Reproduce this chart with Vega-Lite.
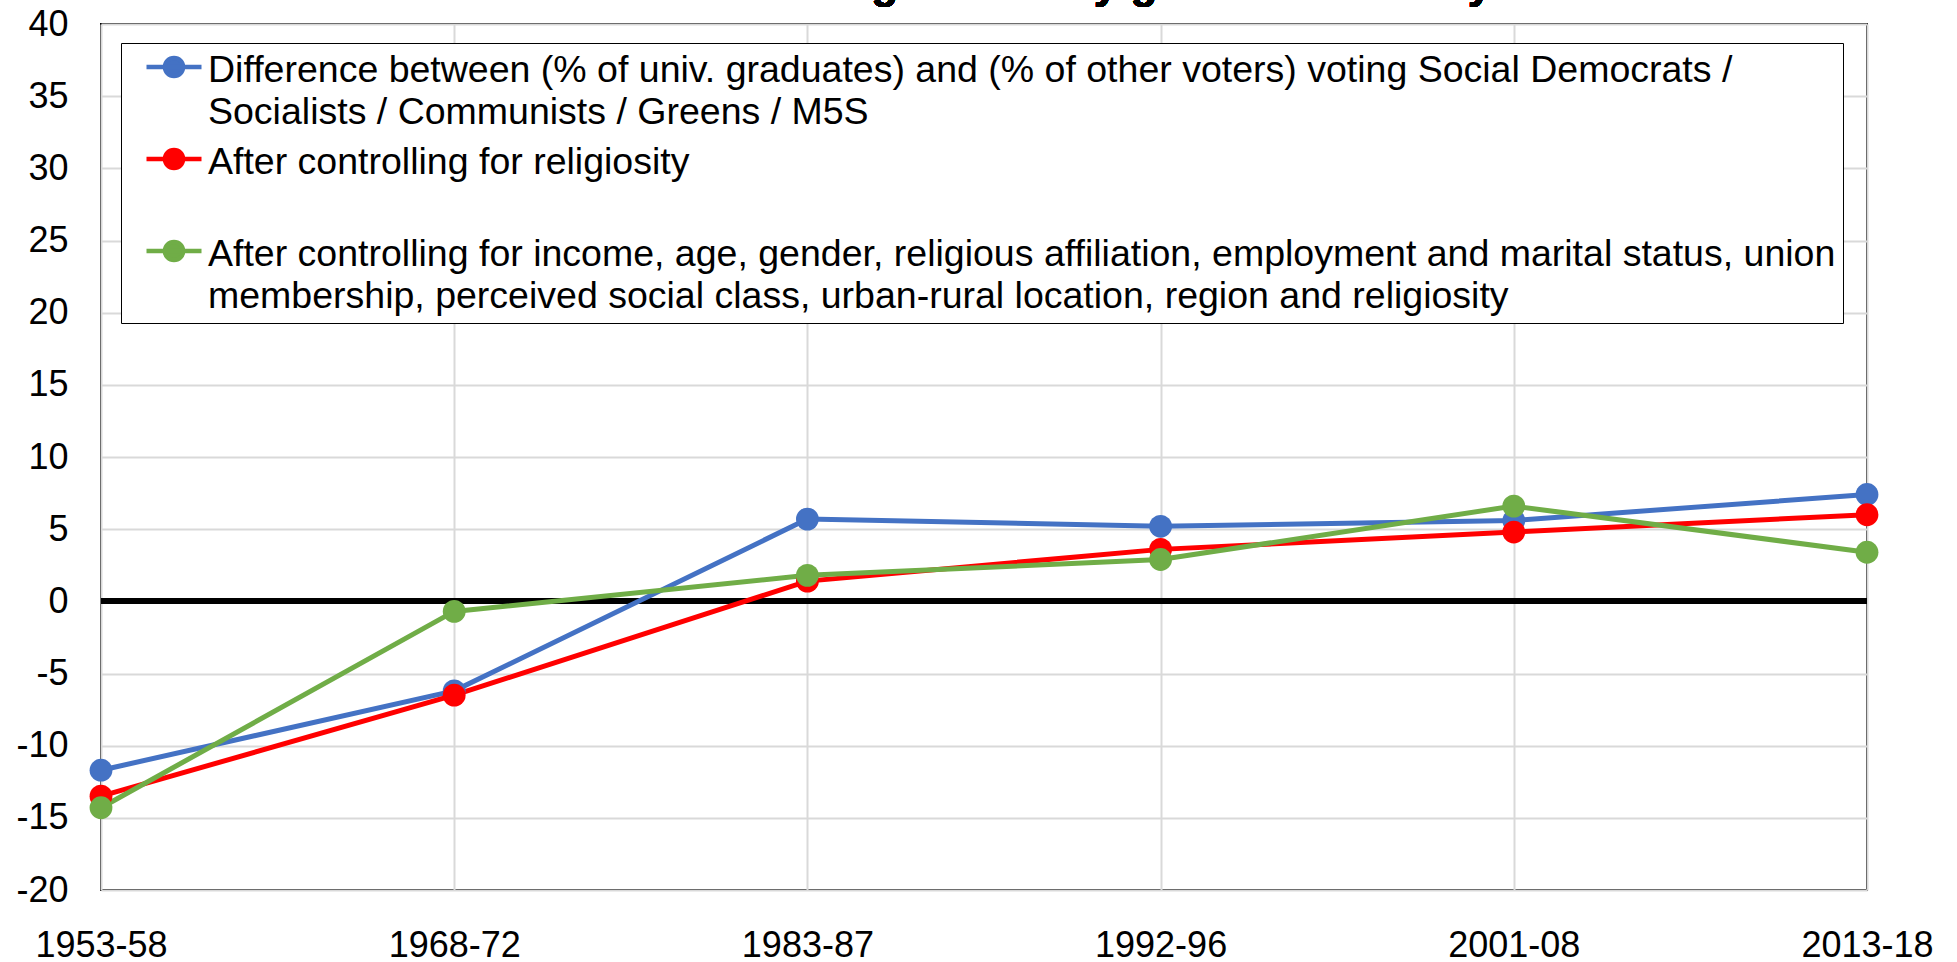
{
  "$schema": "https://vega.github.io/schema/vega-lite/v6.json",
  "autosize": {"type": "none"},
  "width": 1766,
  "height": 866,
  "padding": {"left": 101, "top": 24, "right": 90, "bottom": 72},
  "background": "white",
  "config": {
    "view": {"stroke": "black", "strokeWidth": 2},
    "axis": {
      "labelFont": "Liberation Sans",
      "labelFontSize": 36,
      "labelColor": "black",
      "ticks": false,
      "tickSize": 0,
      "domain": false,
      "grid": true,
      "gridColor": "#d9d9d9",
      "gridWidth": 2,
      "title": null
    }
  },
  "data": {
    "values": [
      {"period": "1953-58", "series": "Difference between (% of univ. graduates) and (% of other voters) voting Social Democrats /\nSocialists / Communists / Greens / M5S", "value": -11.7},
      {"period": "1968-72", "series": "Difference between (% of univ. graduates) and (% of other voters) voting Social Democrats /\nSocialists / Communists / Greens / M5S", "value": -6.2},
      {"period": "1983-87", "series": "Difference between (% of univ. graduates) and (% of other voters) voting Social Democrats /\nSocialists / Communists / Greens / M5S", "value": 5.7},
      {"period": "1992-96", "series": "Difference between (% of univ. graduates) and (% of other voters) voting Social Democrats /\nSocialists / Communists / Greens / M5S", "value": 5.2},
      {"period": "2001-08", "series": "Difference between (% of univ. graduates) and (% of other voters) voting Social Democrats /\nSocialists / Communists / Greens / M5S", "value": 5.6},
      {"period": "2013-18", "series": "Difference between (% of univ. graduates) and (% of other voters) voting Social Democrats /\nSocialists / Communists / Greens / M5S", "value": 7.4},
      {"period": "1953-58", "series": "After controlling for religiosity\n", "value": -13.5},
      {"period": "1968-72", "series": "After controlling for religiosity\n", "value": -6.5},
      {"period": "1983-87", "series": "After controlling for religiosity\n", "value": 1.4},
      {"period": "1992-96", "series": "After controlling for religiosity\n", "value": 3.6},
      {"period": "2001-08", "series": "After controlling for religiosity\n", "value": 4.8},
      {"period": "2013-18", "series": "After controlling for religiosity\n", "value": 6.0},
      {"period": "1953-58", "series": "After controlling for income, age, gender, religious affiliation, employment and marital status, union\nmembership, perceived social class, urban-rural location, region and religiosity", "value": -14.3},
      {"period": "1968-72", "series": "After controlling for income, age, gender, religious affiliation, employment and marital status, union\nmembership, perceived social class, urban-rural location, region and religiosity", "value": -0.7},
      {"period": "1983-87", "series": "After controlling for income, age, gender, religious affiliation, employment and marital status, union\nmembership, perceived social class, urban-rural location, region and religiosity", "value": 1.8},
      {"period": "1992-96", "series": "After controlling for income, age, gender, religious affiliation, employment and marital status, union\nmembership, perceived social class, urban-rural location, region and religiosity", "value": 2.9},
      {"period": "2001-08", "series": "After controlling for income, age, gender, religious affiliation, employment and marital status, union\nmembership, perceived social class, urban-rural location, region and religiosity", "value": 6.6},
      {"period": "2013-18", "series": "After controlling for income, age, gender, religious affiliation, employment and marital status, union\nmembership, perceived social class, urban-rural location, region and religiosity", "value": 3.4}
    ]
  },
  "layer": [
    {
      "mark": {"type": "rule", "color": "black", "strokeWidth": 5},
      "encoding": {"y": {"datum": 0, "type": "quantitative"}}
    },
    {
      "mark": {
        "type": "line",
        "strokeWidth": 5,
        "point": {"filled": true, "size": 520, "opacity": 1}
      },
      "encoding": {
        "x": {
          "field": "period",
          "type": "ordinal",
          "sort": null,
          "scale": {"type": "point", "padding": 0},
          "axis": {"labelAngle": 0, "labelPadding": 38, "labelBaseline": "top"}
        },
        "y": {
          "field": "value",
          "type": "quantitative",
          "scale": {"domain": [-20, 40], "nice": false, "zero": false},
          "axis": {
            "values": [-20, -15, -10, -5, 0, 5, 10, 15, 20, 25, 30, 35, 40],
            "labelExpr": "datum.value < 0 ? '-' + abs(datum.value) : '' + datum.value",
            "labelPadding": 33
          }
        },
        "color": {
          "field": "series",
          "type": "nominal",
          "sort": null,
          "scale": {"range": ["#4472C4", "#FF0000", "#70AD47"]},
          "legend": {
            "title": null,
            "orient": "none",
            "legendX": 20,
            "legendY": 19,
            "direction": "vertical",
            "fillColor": "white",
            "strokeColor": "black",
            "padding": 7,
            "cornerRadius": 0,
            "symbolType": "M-1,0L1,0M-0.33,0A0.33,0.33,0,1,1,0.33,0A0.33,0.33,0,1,1,-0.33,0Z",
            "symbolSize": 3025,
            "symbolStrokeWidth": 4.5,
            "symbolOffset": 16,
            "labelOffset": 4,
            "labelFont": "Liberation Sans",
            "labelFontSize": 37.5,
            "labelColor": "black",
            "labelLimit": 3000,
            "labelBaseline": "alphabetic",
            "labelExpr": "split(datum.label, '\\n')",
            "rowPadding": 8,
            "encode": {
              "symbols": {"update": {"fill": {"scale": "color", "field": "value"}, "opacity": {"value": 1}, "y": {"value": 17}}},
              "labels": {"update": {"dy": {"value": 2}, "lineHeight": {"value": 41.8}}}
            }
          }
        }
      }
    },
    {
      "mark": {
        "type": "text",
        "text": "The left vote among university graduates in Italy",
        "font": "Liberation Sans",
        "fontSize": 44,
        "fontWeight": "bold",
        "color": "black",
        "align": "center",
        "baseline": "alphabetic",
        "dx": 180,
        "clip": false
      },
      "encoding": {
        "x": {"datum": "1983-87"},
        "y": {"datum": 41.82, "type": "quantitative"}
      }
    }
  ]
}
